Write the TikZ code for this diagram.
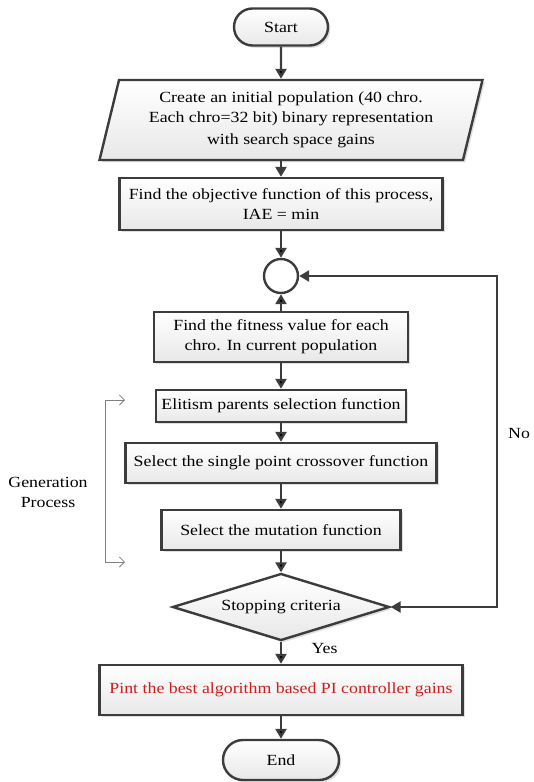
\documentclass[tikz,border=0pt]{standalone}
\usepackage{fontspec}
\setmainfont{Liberation Serif}[FakeStretch=1.15]
\usepackage{tikz}
\usetikzlibrary{shapes.geometric}
\usetikzlibrary{shapes.misc}
\usetikzlibrary{arrows.meta}
\usetikzlibrary{shadows}
\definecolor{linegray}{RGB}{60,60,60}
\definecolor{printred}{RGB}{205,30,30}
\tikzset{every node/.style={font=\fontsize{15.5}{20}\selectfont}}
\tikzset{boxbase/.style={draw=linegray, line width=2.4pt, top color=white, bottom color=gray!18, drop shadow={opacity=0.25}, align=center, inner sep=2pt}}
\tikzset{procbox/.style={boxbase, rectangle}}
\tikzset{termbox/.style={boxbase, rounded rectangle}}
\tikzset{flow/.style={draw=linegray, line width=2.4pt, -{Triangle[length=10pt,width=11pt]}}}

\begin{document}
\begin{tikzpicture}[x=1pt,y=-1pt]
		\useasboundingbox (0,0) rectangle (533,782);
		\node[termbox, minimum width=98pt, minimum height=37pt] (start) at (281,27) {Start};
		\node[boxbase, trapezium, trapezium left angle=72, trapezium right angle=108, trapezium stretches body, minimum width=383pt, minimum height=80pt] (init) at (291,120) {Create an initial population (40 chro.\\ Each chro=32 bit) binary representation\\[2pt] with search space gains};
		\node[procbox, minimum width=323pt, minimum height=52pt] (obj) at (281,204) {Find the objective function of this process,\\ IAE = min};
		\node[shape=circle, draw=linegray, line width=2.4pt, fill=white, minimum size=34pt, inner sep=0pt] (merge) at (281,276) {};
		\node[procbox, minimum width=254pt, minimum height=50pt] (fit) at (281,337) {Find the fitness value for each\\ chro. In current population};
		\node[procbox, minimum width=250pt, minimum height=32pt] (elite) at (281,406) {Elitism parents selection function};
		\node[procbox, minimum width=311pt, minimum height=40pt] (cross) at (281,463) {Select the single point crossover function};
		\node[procbox, minimum width=239pt, minimum height=40pt] (mutate) at (281,530) {Select the mutation function};
		\node[boxbase, diamond, aspect=3.2, minimum width=217pt, minimum height=67pt, inner sep=0pt] (stop) at (281,607) {Stopping criteria};
		\node[procbox, minimum width=363pt, minimum height=50pt, text=printred] (print) at (281,690) {Pint the best algorithm based PI controller gains};
		\node[termbox, minimum width=120pt, minimum height=40pt] (end) at (281,760) {End};
		% loop back and generation bracket
		\coordinate (nobot) at (497,607);
		\coordinate (notop) at (497,276);
		\coordinate (initfoot) at (281,160);
		\node[anchor=west, inner sep=0pt] (nolabel) at (508,433) {No};
		\coordinate (gtop) at (105,400);
		\coordinate (gtopend) at (125,400);
		\coordinate (gbot) at (105,562);
		\coordinate (gbotend) at (125,562);
		\node[align=center] (gen) at (48,492) {Generation\\ Process};
		\path [flow] (start) edge (start |- init.north);
		\draw [flow] (initfoot) -- (obj.north);
		\path [flow] (obj) edge (merge);
		\path [flow] (fit) edge (merge);
		\path [flow] (fit) edge (elite);
		\path [flow] (elite) edge (cross);
		\path [flow] (cross) edge (mutate);
		\path [flow] (mutate) edge (stop);
		\path [flow] (stop) edge node[right=26pt, pos=0.3]{Yes} (print);
		\path [flow] (print) edge (end);
		\draw [flow, {Triangle[length=10pt,width=11pt]}-{Triangle[length=10pt,width=11pt]}] (stop.east) -- (nobot) -- (notop) -- (merge.east);
		\draw [gray, line width=0.8pt, {Straight Barb[length=5pt,width=10pt]}-{Straight Barb[length=5pt,width=10pt]}] (gtopend) -- (gtop) -- (gbot) -- (gbotend);
	\end{tikzpicture}
\end{document}
